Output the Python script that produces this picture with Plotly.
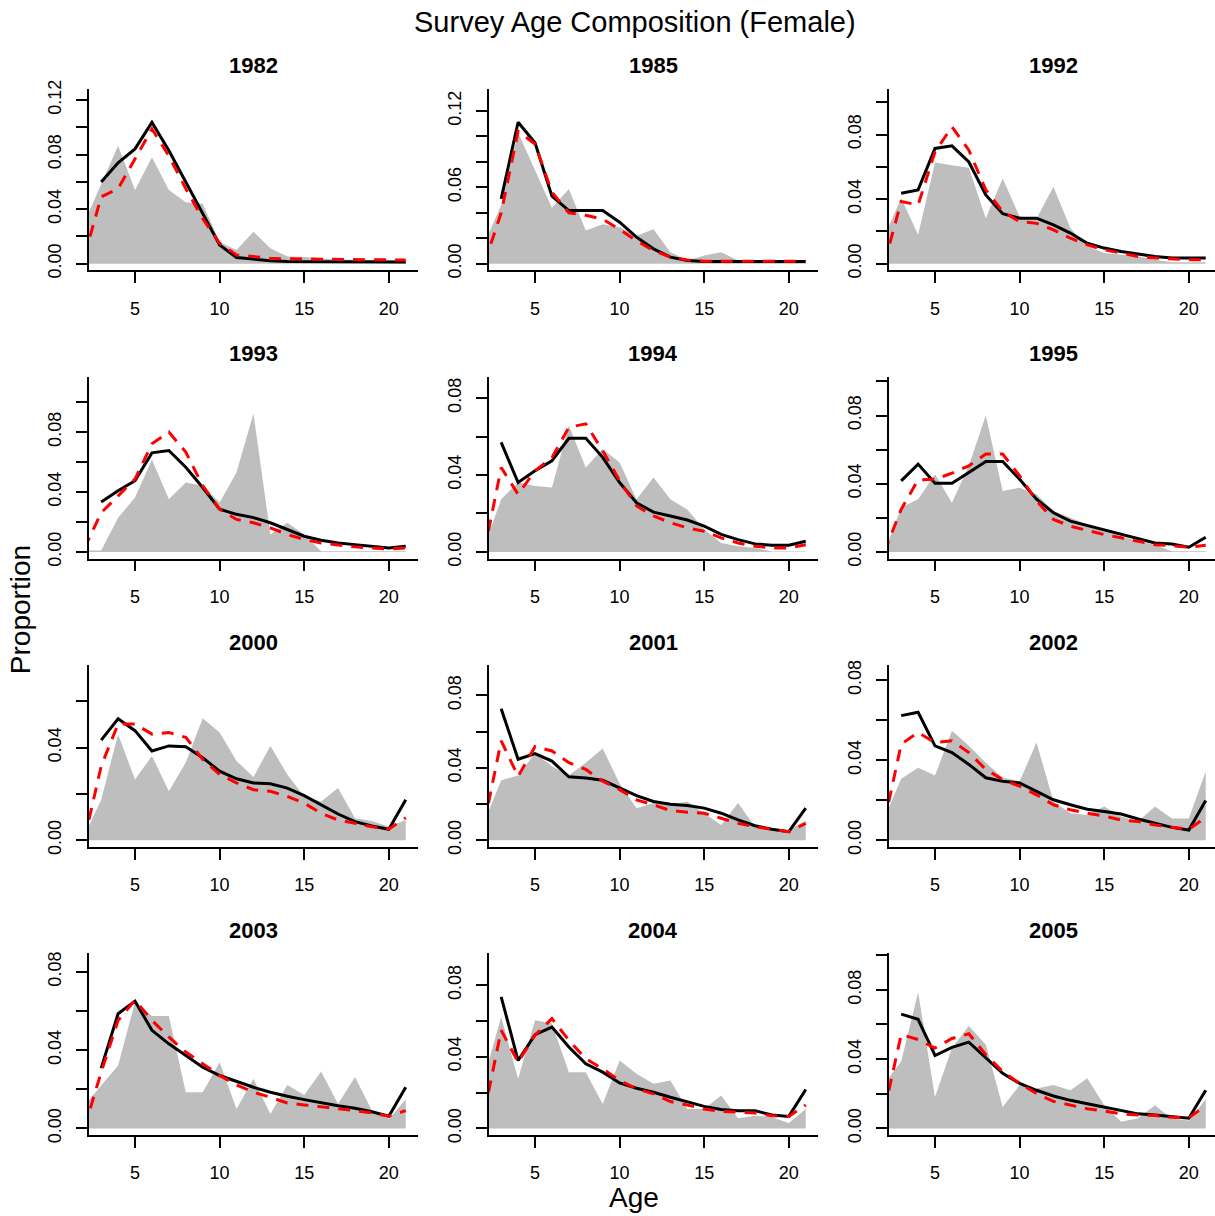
import plotly.graph_objects as go

# ---------------- data ----------------
years = ["1982", "1985", "1992", "1993", "1994", "1995",
         "2000", "2001", "2002", "2003", "2004", "2005"]
ages_obs = list(range(2, 22))   # observed (grey) and red-dashed series
ages_fit = list(range(3, 22))   # black solid series
x_tick_vals = [5, 10, 15, 20]

obs_1982 = [0.030, 0.058, 0.0865, 0.054, 0.078, 0.054, 0.045, 0.044, 0.016, 0.010, 0.0235, 0.0114, 0.0053, 0.005, 0.004, 0.003, 0.003, 0.0025, 0.002, 0.002]
red_1982 = [0.005, 0.049, 0.055, 0.077, 0.0987, 0.079, 0.055, 0.033, 0.015, 0.0065, 0.0053, 0.004, 0.0036, 0.0034, 0.0032, 0.003, 0.003, 0.0028, 0.0027, 0.0027]
blk_1982 = [0.0599, 0.074, 0.0841, 0.1035, 0.083, 0.060, 0.036, 0.0138, 0.0046, 0.0034, 0.0022, 0.0017, 0.0016, 0.0015, 0.0014, 0.0013, 0.0012, 0.0012, 0.0012]

obs_1985 = [0.016, 0.046, 0.103, 0.074, 0.044, 0.0587, 0.026, 0.031, 0.0287, 0.022, 0.027, 0.0091, 0.0026, 0.0065, 0.0091, 0.0026, 0.0013, 0.0013, 0.0013, 0.0013]
red_1985 = [0.0, 0.040, 0.104, 0.094, 0.056, 0.040, 0.038, 0.035, 0.027, 0.018, 0.0104, 0.0052, 0.003, 0.002, 0.002, 0.002, 0.002, 0.002, 0.002, 0.002]
blk_1985 = [0.0509, 0.111, 0.095, 0.053, 0.0417, 0.0417, 0.0417, 0.0326, 0.0209, 0.0117, 0.0052, 0.0026, 0.0018, 0.0018, 0.0018, 0.0018, 0.0018, 0.0018, 0.0018]

obs_1992 = [0.017, 0.0405, 0.0179, 0.0627, 0.061, 0.0594, 0.0282, 0.0528, 0.0292, 0.028, 0.0477, 0.022, 0.0107, 0.0066, 0.0056, 0.0045, 0.0025, 0.001, 0.001, 0.001]
red_1992 = [0.0, 0.0385, 0.0364, 0.0693, 0.0847, 0.0703, 0.0457, 0.0323, 0.0261, 0.025, 0.021, 0.0158, 0.0117, 0.0086, 0.0066, 0.0045, 0.0035, 0.003, 0.0025, 0.0025]
blk_1992 = [0.0436, 0.0457, 0.0714, 0.073, 0.063, 0.0426, 0.031, 0.0282, 0.0282, 0.024, 0.019, 0.0127, 0.0097, 0.0076, 0.006, 0.0045, 0.0035, 0.0035, 0.0035]

obs_1993 = [0.001, 0.001, 0.0229, 0.0363, 0.0616, 0.0352, 0.0464, 0.0442, 0.033, 0.0531, 0.0923, 0.0117, 0.0195, 0.0117, 0.0005, 0.0005, 0.0005, 0.0005, 0.0005, 0.0005]
red_1993 = [0.0023, 0.0262, 0.0374, 0.0486, 0.0722, 0.080, 0.0666, 0.0442, 0.0285, 0.0217, 0.0195, 0.0161, 0.0117, 0.0083, 0.006, 0.0045, 0.0034, 0.0027, 0.002, 0.0027]
blk_1993 = [0.0334, 0.0408, 0.0475, 0.0661, 0.0677, 0.0565, 0.043, 0.0285, 0.0251, 0.0229, 0.0195, 0.015, 0.0105, 0.0078, 0.006, 0.0049, 0.0038, 0.0027, 0.0038]

obs_1994 = [0.0029, 0.0274, 0.0361, 0.0343, 0.0335, 0.0657, 0.0439, 0.0535, 0.0465, 0.0274, 0.0387, 0.0274, 0.0221, 0.0117, 0.0047, 0.003, 0.002, 0.0003, 0.0003, 0.0003]
red_1994 = [0.0, 0.0439, 0.030, 0.0422, 0.049, 0.0648, 0.0666, 0.0526, 0.037, 0.0239, 0.0187, 0.0152, 0.0125, 0.0108, 0.0073, 0.0047, 0.003, 0.0021, 0.0021, 0.0038]
blk_1994 = [0.057, 0.0361, 0.0422, 0.0474, 0.0591, 0.0591, 0.0492, 0.0361, 0.0256, 0.0207, 0.0187, 0.0166, 0.0134, 0.0091, 0.0064, 0.0042, 0.0035, 0.0035, 0.0056]

obs_1995 = [0.0, 0.026, 0.0309, 0.0456, 0.0289, 0.0505, 0.080, 0.0358, 0.0377, 0.0338, 0.024, 0.020, 0.0161, 0.0122, 0.0092, 0.0063, 0.0043, 0.0004, 0.0004, 0.0004]
red_1995 = [0.0, 0.025, 0.0423, 0.0426, 0.0462, 0.0505, 0.0574, 0.0574, 0.0446, 0.0299, 0.0191, 0.0151, 0.0126, 0.0102, 0.0083, 0.0063, 0.0043, 0.0037, 0.0028, 0.0039]
blk_1995 = [0.0417, 0.0515, 0.0403, 0.0403, 0.0466, 0.0531, 0.0531, 0.0426, 0.0309, 0.023, 0.0181, 0.0155, 0.0132, 0.0102, 0.0077, 0.0053, 0.0047, 0.0028, 0.0086]

obs_2000 = [0.0019, 0.0175, 0.0458, 0.0262, 0.0364, 0.0211, 0.0335, 0.0527, 0.0465, 0.0342, 0.0273, 0.0407, 0.0284, 0.0189, 0.0167, 0.0225, 0.0095, 0.0083, 0.0058, 0.0087]
red_2000 = [0.0, 0.032, 0.0502, 0.0502, 0.0458, 0.0465, 0.0444, 0.0349, 0.0284, 0.0247, 0.0218, 0.0211, 0.0189, 0.016, 0.0116, 0.0087, 0.0073, 0.0058, 0.0048, 0.0097]
blk_2000 = [0.0432, 0.0524, 0.0473, 0.0385, 0.0407, 0.0404, 0.0356, 0.0298, 0.0265, 0.0247, 0.0244, 0.0225, 0.0192, 0.0153, 0.0113, 0.008, 0.0061, 0.0047, 0.0175]

obs_2001 = [0.010, 0.0331, 0.0357, 0.048, 0.0409, 0.0357, 0.0428, 0.0506, 0.0313, 0.0177, 0.0205, 0.0195, 0.0214, 0.0149, 0.0084, 0.0205, 0.0074, 0.0056, 0.0056, 0.0108]
red_2001 = [0.009, 0.0549, 0.0353, 0.0517, 0.0493, 0.0428, 0.0391, 0.0326, 0.0279, 0.0223, 0.0195, 0.0164, 0.0154, 0.0149, 0.0121, 0.0093, 0.0074, 0.006, 0.0047, 0.0093]
blk_2001 = [0.0726, 0.0447, 0.0478, 0.0437, 0.035, 0.0344, 0.0331, 0.0288, 0.0246, 0.0214, 0.0199, 0.0192, 0.0177, 0.0149, 0.0112, 0.008, 0.006, 0.0047, 0.0177]

obs_2002 = [0.011, 0.0307, 0.0362, 0.0323, 0.0547, 0.0472, 0.0387, 0.0312, 0.0295, 0.0488, 0.0194, 0.0135, 0.0126, 0.0168, 0.0118, 0.0093, 0.0168, 0.0109, 0.0109, 0.0345]
red_2002 = [0.0087, 0.048, 0.0539, 0.0488, 0.0497, 0.0438, 0.0354, 0.0303, 0.027, 0.0227, 0.0177, 0.0152, 0.0135, 0.0121, 0.0101, 0.0093, 0.0076, 0.0064, 0.0054, 0.0115]
blk_2002 = [0.0623, 0.064, 0.0472, 0.0438, 0.0379, 0.0312, 0.0295, 0.0286, 0.0244, 0.0202, 0.0177, 0.0155, 0.0143, 0.0131, 0.0106, 0.0084, 0.0064, 0.0051, 0.0199]

obs_2003 = [0.0116, 0.0219, 0.0321, 0.0646, 0.0574, 0.0574, 0.0185, 0.0185, 0.0338, 0.0099, 0.0253, 0.0074, 0.0222, 0.0171, 0.0291, 0.0125, 0.0262, 0.0091, 0.0048, 0.0147]
red_2003 = [0.0, 0.0287, 0.0552, 0.0655, 0.0552, 0.0467, 0.039, 0.033, 0.027, 0.0222, 0.0185, 0.0159, 0.013, 0.012, 0.0111, 0.0099, 0.0091, 0.0079, 0.0062, 0.0091]
blk_2003 = [0.0308, 0.0586, 0.065, 0.0501, 0.0432, 0.0373, 0.0313, 0.027, 0.0239, 0.021, 0.0185, 0.0164, 0.0147, 0.013, 0.0116, 0.0103, 0.0085, 0.0062, 0.021]

obs_2004 = [0.0286, 0.0622, 0.0277, 0.0604, 0.0585, 0.0314, 0.0314, 0.0136, 0.0379, 0.0305, 0.0249, 0.0267, 0.0108, 0.0108, 0.0183, 0.0056, 0.0071, 0.0062, 0.003, 0.0108]
red_2004 = [0.0087, 0.0548, 0.037, 0.052, 0.0613, 0.0492, 0.0389, 0.0333, 0.0267, 0.0221, 0.0193, 0.015, 0.0131, 0.0108, 0.0095, 0.009, 0.0086, 0.0071, 0.0067, 0.0131]
blk_2004 = [0.0735, 0.0379, 0.0523, 0.0566, 0.0454, 0.0361, 0.0314, 0.0254, 0.0224, 0.0202, 0.0174, 0.015, 0.0123, 0.0105, 0.0099, 0.0099, 0.0075, 0.0067, 0.0217]

obs_2005 = [0.0258, 0.0386, 0.0786, 0.0181, 0.0464, 0.0591, 0.0484, 0.0123, 0.025, 0.023, 0.025, 0.022, 0.0289, 0.0133, 0.0039, 0.0059, 0.0133, 0.0055, 0.0045, 0.0168]
red_2005 = [0.010, 0.0542, 0.0513, 0.0464, 0.0519, 0.0546, 0.0425, 0.0328, 0.026, 0.0201, 0.0156, 0.0133, 0.0113, 0.01, 0.0084, 0.0078, 0.0074, 0.0064, 0.006, 0.0133]
blk_2005 = [0.066, 0.063, 0.0421, 0.0468, 0.0498, 0.0406, 0.0318, 0.026, 0.022, 0.0187, 0.0162, 0.0142, 0.0123, 0.0103, 0.0084, 0.0078, 0.007, 0.0059, 0.022]

obs_series = [obs_1982, obs_1985, obs_1992, obs_1993, obs_1994, obs_1995,
              obs_2000, obs_2001, obs_2002, obs_2003, obs_2004, obs_2005]
red_series = [red_1982, red_1985, red_1992, red_1993, red_1994, red_1995,
              red_2000, red_2001, red_2002, red_2003, red_2004, red_2005]
blk_series = [blk_1982, blk_1985, blk_1992, blk_1993, blk_1994, blk_1995,
              blk_2000, blk_2001, blk_2002, blk_2003, blk_2004, blk_2005]

# upper y limit of each panel (before R's 4% padding)
y_upper = [0.1233, 0.1321, 0.1042, 0.1123, 0.0875, 0.0987,
           0.0727, 0.0930, 0.0842, 0.0860, 0.0940, 0.0972]
y_tick_top = [0.12, 0.12, 0.10, 0.10, 0.08, 0.10, 0.06, 0.08, 0.08, 0.08, 0.08, 0.10]
y_labelled = [["0.00", "0.04", "0.08", "0.12"], ["0.00", "0.06", "0.12"],
              ["0.00", "0.04", "0.08"], ["0.00", "0.04", "0.08"],
              ["0.00", "0.04", "0.08"], ["0.00", "0.04", "0.08"],
              ["0.00", "0.04"], ["0.00", "0.04", "0.08"],
              ["0.00", "0.04", "0.08"], ["0.00", "0.04", "0.08"],
              ["0.00", "0.04", "0.08"], ["0.00", "0.04", "0.08"]]

# ---------------- layout geometry ----------------
W, H = 1215, 1216
FONT = "Liberation Sans, Arial, Helvetica, sans-serif"
col_left = [89, 489, 889]
col_right = [418, 818, 1215]
px_per_year = 16.92
x_lo = 2.28

# vertical calibration (observed rendering offset/scale)
V_OFF, V_SCALE = 8.25, 0.987


def vy(t):
    """target pixel row -> layout pixel row"""
    return (t - V_OFF) / V_SCALE


row_top = [88, 376.5, 665, 953.5]
panel_h = 182

fig = go.Figure()
layout = dict(
    width=W, height=H,
    margin=dict(l=0, r=0, t=0, b=0),
    paper_bgcolor="white", plot_bgcolor="white",
    showlegend=False,
    font=dict(family=FONT, color="black"),
)
annotations = []

for i, yr in enumerate(years):
    r, c = divmod(i, 3)
    k = i + 1
    xa = "x" if k == 1 else f"x{k}"
    ya = "y" if k == 1 else f"y{k}"
    fig.add_trace(go.Scatter(x=ages_obs, y=obs_series[i], mode="lines",
                             fill="tozeroy", fillcolor="#BEBEBE",
                             line=dict(width=0, color="#BEBEBE"),
                             xaxis=xa, yaxis=ya, hoverinfo="skip"))
    fig.add_trace(go.Scatter(x=ages_fit, y=blk_series[i], mode="lines",
                             line=dict(color="black", width=3),
                             xaxis=xa, yaxis=ya))
    fig.add_trace(go.Scatter(x=ages_obs, y=red_series[i], mode="lines",
                             line=dict(color="red", width=3, dash="12px,9px"),
                             xaxis=xa, yaxis=ya))

    x0p, x1p = col_left[c], col_right[c]
    x_hi = x_lo + (x1p - x0p) / px_per_year
    y0p = vy(row_top[r])
    y1p = vy(row_top[r] + panel_h)
    u = y_upper[i]

    n_ticks = int(round(y_tick_top[i] / 0.02)) + 1
    tvals = [round(0.02 * j, 2) for j in range(n_ticks)]
    ttext = [f"{v:.2f}" if f"{v:.2f}" in y_labelled[i] else "" for v in tvals]

    layout["xaxis" if k == 1 else f"xaxis{k}"] = dict(
        domain=[x0p / W, x1p / W], anchor=ya, range=[x_lo, x_hi],
        tickvals=x_tick_vals, ticktext=[str(v) for v in x_tick_vals],
        ticks="outside", ticklen=11, tickwidth=1.5, tickcolor="black",
        showline=True, linecolor="black", linewidth=1.5,
        showgrid=False, zeroline=False,
        tickfont=dict(size=18, family=FONT, color="black"),
        ticklabelstandoff=10,
    )
    layout["yaxis" if k == 1 else f"yaxis{k}"] = dict(
        domain=[1 - y1p / H, 1 - y0p / H], anchor=xa,
        range=[-0.04 * u, 1.04 * u],
        tickvals=tvals, ticktext=ttext, tickangle=-90,
        ticks="outside", ticklen=11, tickwidth=1.5, tickcolor="black",
        showline=True, linecolor="black", linewidth=1.5,
        showgrid=False, zeroline=False,
        tickfont=dict(size=18, family=FONT, color="black"),
        ticklabelstandoff=8,
    )
    cx = (x0p + x0p + (21.72 - x_lo) * px_per_year) / 2
    annotations.append(dict(text=f"<b>{yr}</b>", x=cx / W, y=1 - vy(row_top[r] - 23) / H,
                            xref="paper", yref="paper", showarrow=False,
                            xanchor="center", yanchor="middle",
                            font=dict(size=22, family=FONT, color="black")))

annotations.append(dict(text="Survey Age Composition (Female)", x=635 / W, y=1 - vy(21) / H,
                        xref="paper", yref="paper", showarrow=False,
                        xanchor="center", yanchor="middle",
                        font=dict(size=29, family=FONT, color="black")))
annotations.append(dict(text="Proportion", x=20 / W, y=1 - vy(610) / H,
                        xref="paper", yref="paper", showarrow=False, textangle=-90,
                        xanchor="center", yanchor="middle",
                        font=dict(size=28, family=FONT, color="black")))
annotations.append(dict(text="Age", x=634 / W, y=1 - vy(1198) / H,
                        xref="paper", yref="paper", showarrow=False,
                        xanchor="center", yanchor="middle",
                        font=dict(size=28, family=FONT, color="black")))
layout["annotations"] = annotations
fig.update_layout(**layout)
fig.write_html("out.html")
